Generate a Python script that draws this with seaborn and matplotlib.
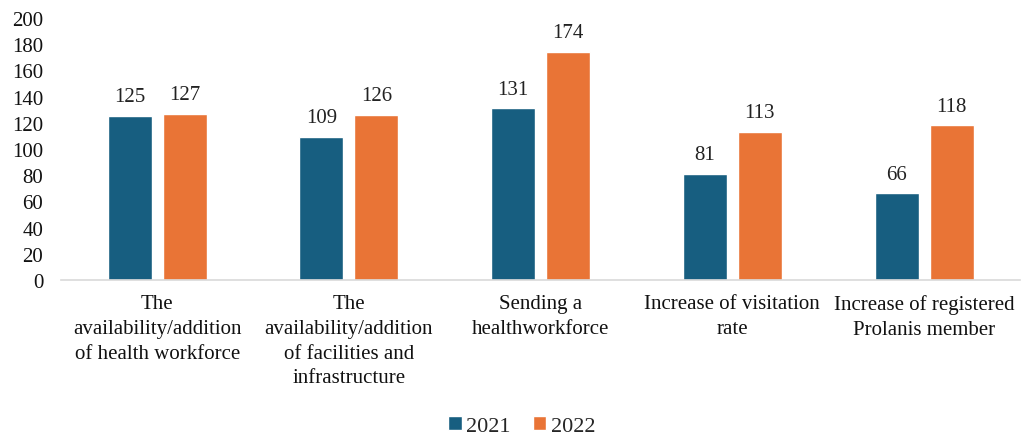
import matplotlib
matplotlib.use("Agg")
import matplotlib.pyplot as plt
import seaborn as sns
import pandas as pd

categories = ["The\navailability/addition\nof health workforce",
              "The\navailability/addition\nof facilities and\ninfrastructure",
              "Sending a\nhealthworkforce",
              "Increase of visitation\nrate",
              "Increase of registered\nProlanis member"]
series_names = ["2021", "2022"]
values_2021 = [125, 109, 131, 81, 66]
values_2022 = [127, 126, 174, 113, 118]
yticks = list(range(0, 201, 20))

df = pd.DataFrame({
    "cat": categories * 2,
    "year": [series_names[0]] * 5 + [series_names[1]] * 5,
    "val": values_2021 + values_2022,
})

sns.set_theme(style="white")
plt.rcParams['font.family'] = ['Liberation Serif', 'DejaVu Serif']

fig = plt.figure(figsize=(10.23, 4.39), dpi=100)
ax = fig.add_axes([0.06, 0.36, 0.937, 0.597])
palette = {"2021": "#175e80", "2022": "#e97436"}
sns.barplot(data=df, x="cat", y="val", hue="year", palette=palette,
            width=0.574, gap=0.2, ax=ax, legend=True, saturation=1)

for cont in ax.containers:
    ax.bar_label(cont, fmt="%d", padding=7, fontsize=15, color="#222222")

ax.set_ylim(0, 200)
ax.set_yticks(yticks)
ax.set_xlim(-0.5, 4.5)
ax.set_xlabel("")
ax.set_ylabel("")
ax.tick_params(axis="y", labelsize=15, colors="#111111", length=0, pad=13)
ax.tick_params(axis="x", labelsize=15, colors="#111111", length=0, pad=10)
for lbl in ax.get_xticklabels():
    lbl.set_linespacing(1.42)
for s in ["left", "right", "top"]:
    ax.spines[s].set_visible(False)
ax.spines["bottom"].set_color("#d9d9d9")
ax.spines["bottom"].set_linewidth(1.2)
ax.grid(False)

leg = ax.legend(loc="center", bbox_to_anchor=(0.51, 0.028),
                bbox_transform=fig.transFigure, ncol=2,
                frameon=False, fontsize=16, handlelength=0.6, handleheight=0.6,
                handletextpad=0.2, columnspacing=1.0, borderpad=0)
fig.savefig("out.png", dpi=100)
